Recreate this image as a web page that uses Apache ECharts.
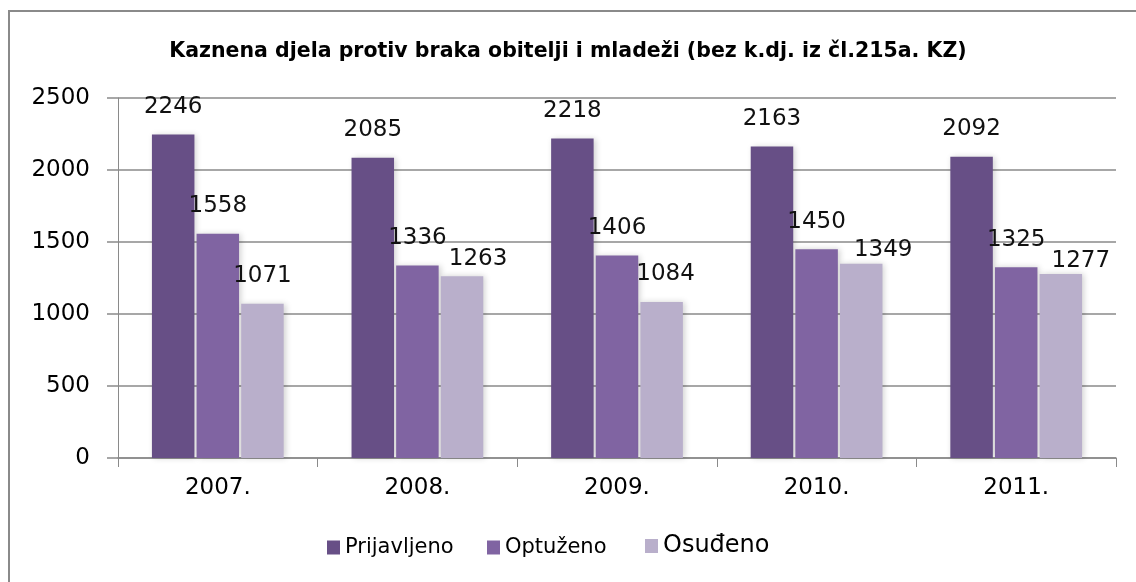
<!DOCTYPE html>
<html>
<head>
<meta charset="utf-8">
<script src="https://cdn.jsdelivr.net/npm/echarts@6/dist/echarts.min.js"></script>
<style>
  html, body { margin: 0; padding: 0; background: #fff; }
  #chart { width: 1136px; height: 582px; }
</style>
</head>
<body>
<div id="chart"></div>
<script>
// podaci s grafa
var godine = ['2007.', '2008.', '2009.', '2010.', '2011.'];
var prijavljeno = [2246, 2085, 2218, 2163, 2092];
var optuzeno = [1558, 1336, 1406, 1450, 1325];
var osudeno = [1071, 1263, 1084, 1349, 1277];
var yTicks = [0, 500, 1000, 1500, 2000, 2500];

// pomak oznaka za "Osuđeno" da se ne preklapaju (kao u originalu)
var osudenoLabelPomak = [[0, 0], [16, 10], [4, 0], [22, 14], [20, 14]];

var font = 'DejaVu Sans';

function barSeries(name, data, color, pomaci) {
    return {
        name: name,
        type: 'bar',
        data: data.map(function (v, i) {
            if (!pomaci) return v;
            return { value: v, label: { offset: pomaci[i] } };
        }),
        barGap: '5%',
        barCategoryGap: '34%',
        itemStyle: {
            color: color,
            shadowColor: 'rgba(0,0,0,0.18)',
            shadowBlur: 6,
            shadowOffsetX: 2
        },
        label: {
            show: true,
            position: 'top',
            distance: 16,
            color: '#111',
            fontFamily: font,
            fontSize: 23
        }
    };
}

// legenda - tri odvojene stavke kao u originalu
function legendItem(name, left, size) {
    return {
        left: left,
        bottom: 19,
        itemWidth: 13,
        itemHeight: 14,
        icon: 'rect',
        textStyle: { fontFamily: font, fontSize: size, color: '#000' },
        data: [name]
    };
}

var myChart = echarts.init(document.getElementById('chart'));
myChart.setOption({
    animation: false,
    backgroundColor: '#fff',
    title: {
        text: 'Kaznena djela protiv braka obitelji i mladeži (bez k.dj. iz čl.215a. KZ)',
        left: 'center',
        top: 36,
        textStyle: { fontFamily: font, fontWeight: 'bold', fontSize: 20.5, color: '#000' }
    },
    graphic: [{
        type: 'rect',
        shape: { x: 9, y: 11, width: 1140, height: 590 },
        style: { fill: 'none', stroke: '#8a8a8a', lineWidth: 2 },
        silent: true
    }],
    legend: [
        legendItem('Prijavljeno', 322, 21),
        legendItem('Optuženo', 482, 21),
        legendItem('Osuđeno', 640, 24)
    ],
    grid: { left: 118, right: 20, top: 98, bottom: 124 },
    xAxis: {
        type: 'category',
        data: godine,
        axisLine: { lineStyle: { color: '#8a8a8a', width: 1.5 } },
        axisTick: { show: true, length: 9, lineStyle: { color: '#8a8a8a' } },
        axisLabel: { fontFamily: font, fontSize: 23, color: '#000', margin: 19 }
    },
    yAxis: {
        type: 'value',
        min: yTicks[0],
        max: yTicks[yTicks.length - 1],
        interval: 500,
        axisLine: { show: true, lineStyle: { color: '#8a8a8a', width: 1 } },
        axisTick: { show: true, length: 11, lineStyle: { color: '#8a8a8a', width: 1.5 } },
        splitLine: { lineStyle: { color: '#8a8a8a', width: 1.5 } },
        axisLabel: {
            fontFamily: font, fontSize: 23, color: '#000', margin: 28,
            formatter: function (v) { return String(v); }
        }
    },
    series: [
        barSeries('Prijavljeno', prijavljeno, '#674f86'),
        barSeries('Optuženo', optuzeno, '#8064a2'),
        barSeries('Osuđeno', osudeno, '#b9afcb', osudenoLabelPomak)
    ]
});
</script>
</body>
</html>
